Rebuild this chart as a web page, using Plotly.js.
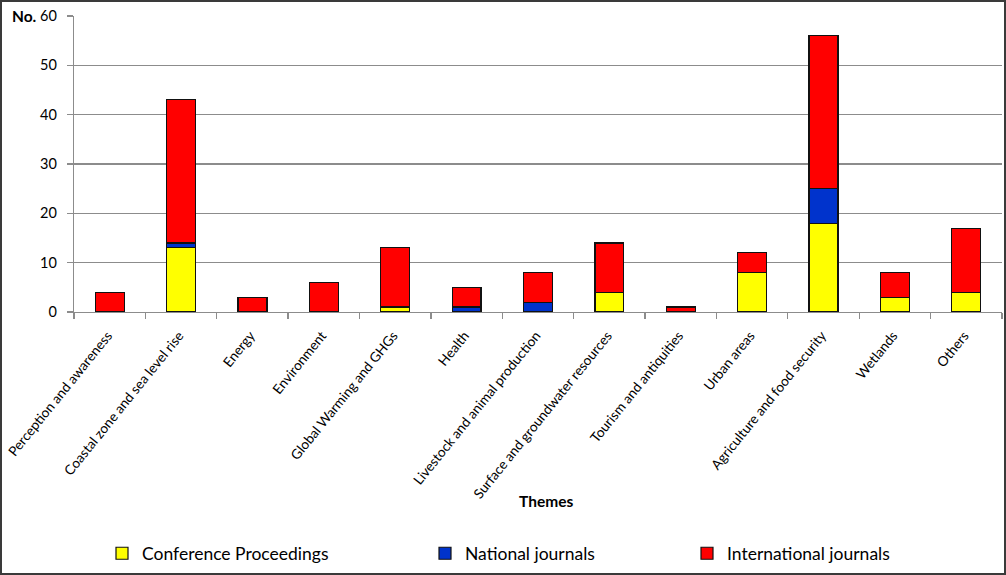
<!DOCTYPE html>
<html>
<head>
<meta charset="utf-8">
<script src="https://cdn.plot.ly/plotly-3.0.1.min.js"></script>
<style>
html,body{margin:0;padding:0;background:#fff;}
#wrap{position:relative;width:1006px;height:575px;}
#chart{position:absolute;left:0;top:0;width:1006px;height:575px;}
#frame{position:absolute;left:0;top:0;width:1006px;height:575px;box-sizing:border-box;border:2px solid #3a3a3a;pointer-events:none;}
</style>
</head>
<body>
<div id="wrap"><div id="chart"></div><div id="frame"></div></div>
<script>
const themes = [
  "Perception and awareness",
  "Coastal zone and sea level rise",
  "Energy",
  "Environment",
  "Global Warming and GHGs",
  "Health",
  "Livestock and animal production",
  "Surface and groundwater resources",
  "Tourism and antiquities",
  "Urban areas",
  "Agriculture and food security",
  "Wetlands",
  "Others"
];
const conference = [0, 13, 0, 0, 1, 0, 0, 4, 0, 8, 18, 3, 4];
const national   = [0, 1, 0, 0, 0, 1, 2, 0, 0, 0, 7, 0, 0];
const international = [4, 29, 3, 6, 12, 4, 6, 10, 1, 4, 31, 5, 13];
const yTicks = [0, 10, 20, 30, 40, 50, 60];

const FONT = "Lato, Calibri, sans-serif";
const line = {color: "#111", width: 1.2};

const traces = [
  {type: "bar", name: "Conference Proceedings", x: themes, y: conference,
   marker: {color: "#FFFF00", line: line}, legend: "legend"},
  {type: "bar", name: "National journals", x: themes, y: national,
   marker: {color: "#0033CC", line: line}, legend: "legend2"},
  {type: "bar", name: "International journals", x: themes, y: international,
   marker: {color: "#FF0000", line: line}, legend: "legend3"}
];

const L = 74, R = 4, T = 16, B = 261;
const W = 1006 - L - R, H = 575 - T - B;
const px = v => (v - L) / W;
const py = v => (575 - B - v) / H;

const legBase = {orientation: "h", yanchor: "middle", xanchor: "left",
  font: {family: FONT, size: 17.5, color: "#000"}, bgcolor: "rgba(0,0,0,0)", itemwidth: 30};

const layout = {
  width: 1006, height: 575,
  margin: {l: L, r: R, t: T, b: B, pad: 0},
  paper_bgcolor: "#fff", plot_bgcolor: "#fff",
  barmode: "stack", bargap: 0.595,
  showlegend: true,
  legend:  Object.assign({}, legBase, {x: px(102), y: py(557)}),
  legend2: Object.assign({}, legBase, {x: px(425), y: py(557)}),
  legend3: Object.assign({}, legBase, {x: px(687), y: py(557)}),
  xaxis: {
    type: "category", tickangle: -51, tickson: "boundaries",
    ticks: "outside", ticklen: 6, tickcolor: "#8c8c8c", tickwidth: 1.3,
    ticklabelshift: -2, ticklabelstandoff: 9,
    showline: true, linecolor: "#8c8c8c", linewidth: 1.3,
    showgrid: false, automargin: false,
    tickfont: {family: FONT, size: 13.6, color: "#000"},
    fixedrange: true
  },
  yaxis: {
    range: [0, 60], tickvals: yTicks, ticktext: yTicks.map(String),
    ticks: "outside", ticklen: 6, tickcolor: "#8c8c8c", tickwidth: 1.3,
    ticklabelstandoff: 7,
    showline: true, linecolor: "#8c8c8c", linewidth: 1.3,
    showgrid: true, gridcolor: "#8c8c8c", gridwidth: 1.3,
    zeroline: false, automargin: false,
    tickfont: {family: FONT, size: 14.5, color: "#000"},
    fixedrange: true
  },
  annotations: [
    {text: "<b>No.</b>", xref: "paper", yref: "paper", x: px(39), y: py(16),
     xanchor: "right", yanchor: "middle", showarrow: false,
     font: {family: FONT, size: 15.5, color: "#000"}},
    {text: "<b>Themes</b>", xref: "paper", yref: "paper", x: px(546), y: py(504),
     xanchor: "center", yanchor: "middle", showarrow: false,
     font: {family: FONT, size: 15.5, color: "#000"}}
  ]
};

Plotly.newPlot("chart", traces, layout, {displayModeBar: false, staticPlot: true});
</script>
</body>
</html>
